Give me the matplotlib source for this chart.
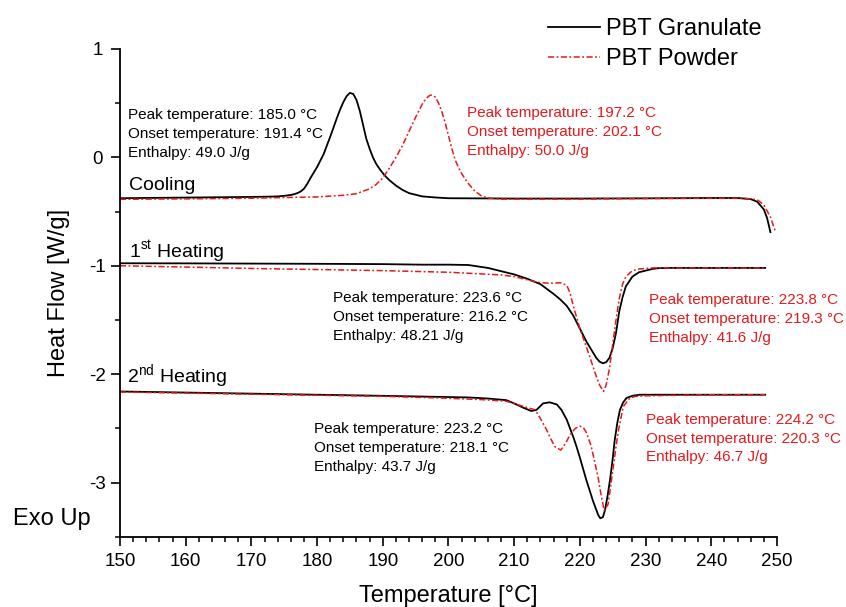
import matplotlib
matplotlib.use("Agg")
import matplotlib.pyplot as plt
from matplotlib.ticker import MultipleLocator

plt.rcParams['font.family'] = ['Liberation Sans', 'DejaVu Sans']
plt.rcParams['mathtext.fontset'] = 'custom'
plt.rcParams['mathtext.rm'] = 'Liberation Sans'
plt.rcParams['axes.unicode_minus'] = False

# ---- data (temperature in degC, heat flow in W/g) ----
cool_gran_T = [150, 155, 160, 165, 170, 173, 174, 175, 176, 176.5, 177, 177.5, 178, 178.5, 179,
               179.5, 180, 180.5, 181, 181.5, 182, 182.5, 183, 183.5, 184, 184.5, 185, 185.5,
               186, 186.5, 187, 187.5, 188, 188.5, 189, 189.5, 190, 190.5, 191, 192, 193, 194,
               196, 198, 200, 210, 220, 230, 240, 244, 246, 247, 248, 248.5, 249]
cool_gran_hf = [-0.377, -0.374, -0.371, -0.368, -0.365, -0.362, -0.36, -0.355, -0.347, -0.34,
                -0.33, -0.315, -0.29, -0.245, -0.19, -0.14, -0.09, -0.03, 0.03, 0.11, 0.19,
                0.275, 0.36, 0.44, 0.51, 0.565, 0.595, 0.585, 0.53, 0.43, 0.30, 0.17, 0.08,
                0.0, -0.06, -0.105, -0.145, -0.18, -0.21, -0.26, -0.30, -0.33, -0.36,
                -0.37, -0.377, -0.38, -0.38, -0.378, -0.375, -0.375, -0.385, -0.41, -0.48,
                -0.56, -0.69]

cool_powd_T = [150, 160, 170, 180, 184, 186, 188, 189, 190, 190.5, 191, 191.5, 192, 192.5, 193,
               193.5, 194, 194.5, 195, 195.5, 196, 196.5, 197, 197.3, 197.7, 198, 198.5, 199,
               199.5, 200, 200.5, 201, 201.5, 202, 203, 204, 205, 206, 208, 210, 220, 230,
               240, 245, 247, 248, 249, 249.8]
cool_powd_hf = [-0.387, -0.383, -0.377, -0.365, -0.35, -0.335, -0.29, -0.25, -0.19, -0.145,
                -0.10, -0.05, 0.0, 0.055, 0.11, 0.175, 0.24, 0.305, 0.37, 0.43, 0.49, 0.535,
                0.565, 0.575, 0.57, 0.555, 0.50, 0.42, 0.32, 0.20, 0.085, -0.02, -0.09, -0.15,
                -0.24, -0.31, -0.355, -0.375, -0.385, -0.385, -0.385, -0.38, -0.378, -0.378,
                -0.39, -0.44, -0.55, -0.69]

heat1_gran_T = [150, 160, 170, 180, 190, 196, 200, 203, 206, 208, 210, 212, 214, 216, 217, 218,
                219, 220, 221, 222, 222.5, 223, 223.5, 224, 224.5, 225, 225.5, 226, 226.5, 227,
                228, 229, 230, 231, 232, 234, 240, 248.2]
heat1_gran_hf = [-0.977, -0.978, -0.98, -0.982, -0.985, -0.99, -0.99, -0.993, -1.02, -1.05, -1.08,
                 -1.12, -1.17, -1.26, -1.31, -1.37, -1.46, -1.58, -1.70, -1.80, -1.85, -1.885,
                 -1.90, -1.89, -1.85, -1.76, -1.62, -1.42, -1.29, -1.19, -1.10, -1.06, -1.045,
                 -1.03, -1.022, -1.02, -1.02, -1.02]

heat1_powd_T = [150, 160, 170, 180, 190, 196, 200, 205, 208, 210, 212, 213, 214, 215, 216, 217,
                218, 218.5, 219, 220, 221, 222, 222.5, 223, 223.6, 224, 224.5, 225, 225.5, 226,
                226.5, 227, 228, 229, 231, 235, 240, 248.2]
heat1_powd_hf = [-1.0, -1.012, -1.025, -1.035, -1.045, -1.054, -1.06, -1.075, -1.085, -1.10,
                 -1.13, -1.145, -1.155, -1.16, -1.16, -1.157, -1.18, -1.25, -1.37, -1.58, -1.75,
                 -1.93, -2.02, -2.10, -2.16, -2.10, -1.95, -1.72, -1.50, -1.30, -1.17, -1.10,
                 -1.045, -1.03, -1.02, -1.02, -1.02, -1.02]

heat2_gran_T = [150, 160, 170, 180, 190, 198.7, 203, 206, 208.8, 210, 211.4, 212.6, 213.4, 214.4,
                215.4, 216.5, 217.2, 218, 219, 219.5, 220, 221, 222, 222.3, 222.8, 223.1, 223.5,
                223.8, 224.2, 224.6, 225, 225.3, 225.7, 226.1, 226.6, 227.1, 228, 229.1, 232,
                240, 248.2]
heat2_gran_hf = [-2.16, -2.17, -2.18, -2.19, -2.20, -2.21, -2.215, -2.225, -2.24, -2.27, -2.31,
                 -2.34, -2.33, -2.27, -2.26, -2.28, -2.33, -2.42, -2.58, -2.67, -2.77, -2.98,
                 -3.17, -3.22, -3.30, -3.33, -3.32, -3.26, -3.13, -2.97, -2.78, -2.61, -2.45,
                 -2.33, -2.26, -2.22, -2.20, -2.19, -2.19, -2.19, -2.19]

heat2_powd_T = [150, 160, 170, 180, 190, 198.7, 205, 208.8, 211, 213.2, 214, 214.9, 215.6, 216.2,
                217.1, 217.8, 218.5, 219.3, 220, 220.5, 221, 221.7, 222.3, 222.8, 223.1, 223.7,
                224.3, 224.7, 225.1, 225.5, 225.9, 226.6, 227.6, 228.5, 230.2, 235, 240, 248.2]
heat2_powd_hf = [-2.165, -2.175, -2.185, -2.195, -2.205, -2.22, -2.235, -2.25, -2.29, -2.33,
                 -2.41, -2.51, -2.60, -2.67, -2.70, -2.64, -2.56, -2.50, -2.48, -2.49, -2.54,
                 -2.66, -2.82, -2.96, -3.07, -3.26, -3.20, -3.03, -2.85, -2.67, -2.51, -2.30,
                 -2.22, -2.205, -2.20, -2.195, -2.19, -2.19]

series_labels = ['PBT Granulate', 'PBT Powder']
gran_notes = [['Peak temperature: 185.0 °C', 'Onset temperature: 191.4 °C', 'Enthalpy: 49.0 J/g'],
              ['Peak temperature: 223.6 °C', 'Onset temperature: 216.2 °C', 'Enthalpy: 48.21 J/g'],
              ['Peak temperature: 223.2 °C', 'Onset temperature: 218.1 °C', 'Enthalpy: 43.7 J/g']]
powd_notes = [['Peak temperature: 197.2 °C', 'Onset temperature: 202.1 °C', 'Enthalpy: 50.0 J/g'],
              ['Peak temperature: 223.8 °C', 'Onset temperature: 219.3 °C', 'Enthalpy: 41.6 J/g'],
              ['Peak temperature: 224.2 °C', 'Onset temperature: 220.3 °C', 'Enthalpy: 46.7 J/g']]

RED = '#e3191c'
red_ls = (0, (4, 1.6, 1.2, 1.6))

fig = plt.figure(figsize=(8.46, 6.07), dpi=100)
ax = fig.add_axes([0.1418, 0.1158, 0.7766, 0.8035])

l1, = ax.plot(cool_gran_T, cool_gran_hf, color='black', lw=1.3)
l2, = ax.plot(cool_powd_T, cool_powd_hf, color=RED, lw=1.1, ls=red_ls)
ax.plot(heat1_gran_T, heat1_gran_hf, color='black', lw=1.3)
ax.plot(heat1_powd_T, heat1_powd_hf, color=RED, lw=1.1, ls=red_ls)
ax.plot(heat2_gran_T, heat2_gran_hf, color='black', lw=1.3)
ax.plot(heat2_powd_T, heat2_powd_hf, color=RED, lw=1.1, ls=red_ls)

ax.set_xlim(150, 250)
ax.set_ylim(-3.5, 1.0)
ax.xaxis.set_major_locator(MultipleLocator(10))
ax.xaxis.set_minor_locator(MultipleLocator(2))
ax.yaxis.set_major_locator(MultipleLocator(1))
ax.yaxis.set_minor_locator(MultipleLocator(0.5))
for s in ['top', 'right']:
    ax.spines[s].set_visible(False)
for s in ['left', 'bottom']:
    ax.spines[s].set_linewidth(1.3)
ax.tick_params(which='major', direction='out', length=6.5, width=1.2, labelsize=13.5)
ax.tick_params(which='minor', direction='out', length=3.5, width=1.1)
ax.tick_params(axis='x', which='major', pad=5)
ax.tick_params(axis='y', which='major', pad=9.4)
for t in ax.get_yticklabels():
    t.set_horizontalalignment('center')

# annotation blocks (baseline of first line, step between lines)
step = 0.175
def block(x, y, lines, color):
    for i, s in enumerate(lines):
        ax.text(x, y - i * step, s, color=color, fontsize=11, va='baseline', ha='left')

block(151.26, 0.353, gran_notes[0], 'black')
block(202.75, 0.374, powd_notes[0], RED)
block(182.5, -1.331, gran_notes[1], 'black')
block(230.5, -1.352, powd_notes[1], RED)
block(179.5, -2.543, gran_notes[2], 'black')
block(230.05, -2.456, powd_notes[2], RED)

ax.text(151.37, -0.301, 'Cooling', fontsize=14, va='baseline')
ax.text(151.37, -0.931, '1$^{\\mathrm{st}}$ Heating', fontsize=14, va='baseline')
ax.text(151.0, -2.083, '2$^{\\mathrm{nd}}$ Heating', fontsize=14, va='baseline')

fig.text(13.3 / 846, 1 - 525 / 607, 'Exo Up', fontsize=17, va='baseline')
fig.text(59 / 846, 1 - 293 / 607, 'Heat Flow [W/g]', fontsize=17, rotation=90,
         ha='center', va='center')
fig.text(448 / 846, 1 - 596 / 607, 'Temperature [°C]', fontsize=17, ha='center', va='center')

fig.legend([l1, l2], series_labels, loc='upper left', bbox_to_anchor=(548 / 846, 1 - 18 / 607),
           frameon=False, fontsize=17, handlelength=2.2, handletextpad=0.25,
           labelspacing=0.33, borderpad=0, borderaxespad=0)

fig.savefig('out.png', dpi=100)
